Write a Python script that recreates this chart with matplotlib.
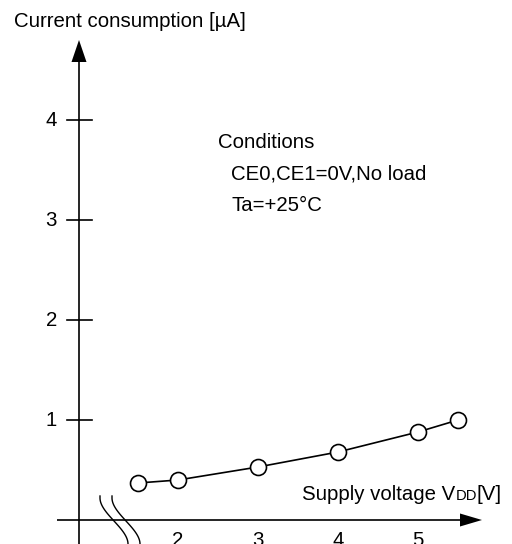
import numpy as np
import matplotlib
matplotlib.use("Agg")
import matplotlib.pyplot as plt
from matplotlib.patches import Polygon

plt.rcParams['font.family'] = ['Liberation Sans', 'DejaVu Sans']

# Data
voltage = [1.5, 2.0, 3.0, 4.0, 5.0, 5.5]
current = [0.37, 0.40, 0.53, 0.68, 0.88, 1.00]
x_ticks = [2, 3, 4, 5]
y_ticks = [1, 2, 3, 4]
y_label = "Current consumption [µA]"
conditions = ["Conditions", "CE0,CE1=0V,No load", "Ta=+25°C"]

W, H = 512, 544
fig = plt.figure(figsize=(W / 100, H / 100), dpi=100)
ax = fig.add_axes([0, 0, 1, 1])
# pixel mapping: px = 18 + 80*x ; py(top) = 520 - 100*y
ax.set_xlim((0 - 18) / 80, (W - 18) / 80)
ax.set_ylim((520 - H) / 100, 520 / 100)
ax.axis('off')

def px2x(px):
    return (px - 18) / 80

def py2y(py):
    return (520 - py) / 100

lw = 1.2
yaxis_x = px2x(79)
fs = 14.7

# y axis
ytip = py2y(40)
ybase = py2y(62)
ax.plot([yaxis_x, yaxis_x], [py2y(560), ybase], color='black', lw=lw, solid_capstyle='butt')
ax.add_patch(Polygon([[yaxis_x, ytip], [yaxis_x - 7.5 / 80, ybase], [yaxis_x + 7.5 / 80, ybase]],
                     closed=True, color='black', lw=0))
# x axis
xtip = px2x(482)
xbase = px2x(460)
ax.plot([px2x(57), xbase], [0, 0], color='black', lw=lw, solid_capstyle='butt')
ax.add_patch(Polygon([[xtip, 0], [xbase, 6.5 / 100], [xbase, -6.5 / 100]],
                     closed=True, color='black', lw=0))

# y ticks
for t in y_ticks:
    ax.plot([px2x(67), px2x(92)], [t, t], color='black', lw=lw)
    ax.text(px2x(57), t, str(t), ha='right', va='center', fontsize=fs)

# x tick labels
for t in x_ticks:
    ax.text(t, py2y(531), str(t), ha='center', va='top', fontsize=fs)

# break marks
ys = np.linspace(496, 550, 60)
tt = np.clip((ys - 498) / 46, 0, 1)
s = tt * tt * (3 - 2 * tt)
for x0 in (100, 112):
    xs = x0 + 28 * s
    ax.plot(px2x(xs), py2y(ys), color='black', lw=1.0)

# data
ax.plot(voltage, current, color='black', lw=lw, marker='o', markersize=11.5,
        markerfacecolor='white', markeredgecolor='black', markeredgewidth=1.2, zorder=5)

# labels
ax.text(px2x(14), py2y(21), y_label, ha='left', va='center', fontsize=fs)
ax.text(px2x(218), py2y(142), conditions[0], ha='left', va='center', fontsize=fs)
ax.text(px2x(231), py2y(174), conditions[1], ha='left', va='center', fontsize=fs)
ax.text(px2x(231), py2y(205), conditions[2], ha='left', va='center', fontsize=fs)

# Supply voltage V_DD[V], right aligned at px 502
fig.canvas.draw()
r = fig.canvas.get_renderer()
parts = [("Supply voltage V", fs), ("DD", fs * 0.72), ("[V]", fs)]
widths = []
for txt, f in parts:
    t = ax.text(0, 0, txt, fontsize=f)
    widths.append(t.get_window_extent(r).width)
    t.remove()
xr = 502
xstart = xr - sum(widths)
base_y = py2y(500)
cur = xstart
for (txt, f), w in zip(parts, widths):
    ax.text(px2x(cur), base_y, txt, fontsize=f, ha='left', va='baseline')
    cur += w

fig.savefig("out.png", dpi=100)
